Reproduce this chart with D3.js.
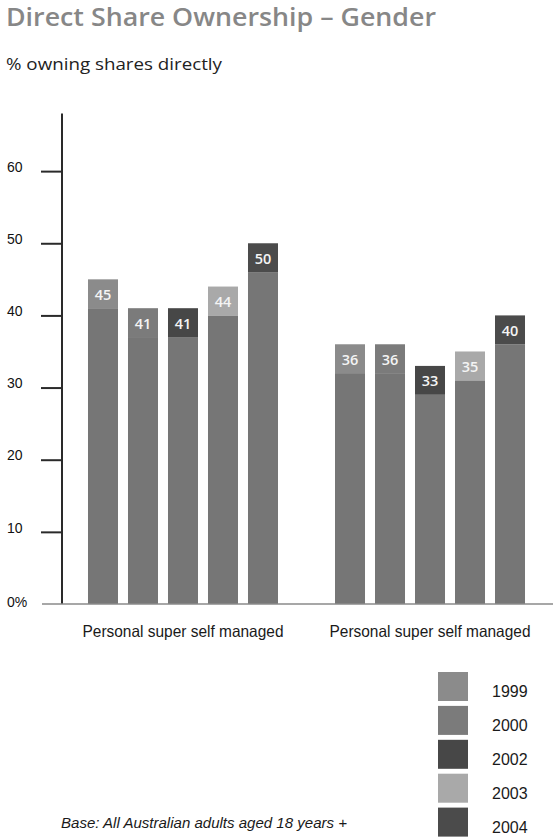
<!DOCTYPE html>
<html>
<head>
<meta charset="utf-8">
<script src="https://cdn.jsdelivr.net/npm/d3@7"></script>
<style>
  html, body { margin: 0; padding: 0; background: #fff; }
  svg { display: block; }
</style>
</head>
<body>
<svg id="chart" width="553" height="838"></svg>
<script>
// Chart data
const groups = ["Personal super self managed", "Personal super self managed (2)"];
const groupLabels = ["Personal super self managed", "Personal super self managed"];
const years = ["1999", "2000", "2002", "2003", "2004"];
const groupValues = [
  [45, 41, 41, 44, 50],
  [36, 36, 33, 35, 40]
];
const yTicks = [0, 10, 20, 30, 40, 50, 60];
const tickLabels = ["0%", "10", "20", "30", "40", "50", "60"];

// Styling
const yearColors = ["#8b8b8b", "#7b7b7b", "#474747", "#a9a9a9", "#4b4b4b"];
const baseColor = "#767676";
const capSpan = 4; // height of the coloured year cap, in % points

const svg = d3.select("#chart");

// Titles
svg.append("text")
  .attr("x", 6).attr("y", 26)
  .attr("font-family", "'Open Sans', sans-serif")
  .attr("font-weight", 600)
  .attr("font-size", 25)
  .attr("fill", "#878787")
  .attr("textLength", 430).attr("lengthAdjust", "spacingAndGlyphs")
  .text("Direct Share Ownership – Gender");

svg.append("text")
  .attr("x", 6).attr("y", 70)
  .attr("font-family", "'Open Sans', sans-serif")
  .attr("font-size", 17)
  .attr("fill", "#222")
  .attr("textLength", 216).attr("lengthAdjust", "spacingAndGlyphs")
  .text("% owning shares directly");

// Scales
const y = d3.scaleLinear().domain([0, 68]).range([604, 113.4]);
const x0 = d3.scaleBand().domain(groups).range([63, 550])
  .paddingInner(0.2308).paddingOuter(0.1012);
const x1 = d3.scaleBand().domain(years).range([0, 190]).paddingInner(0.25);

// Y axis
const axisX = 62;
const yAxis = d3.axisLeft(y)
  .tickValues(yTicks.filter(t => t > 0))
  .tickSize(21)
  .tickFormat(d => tickLabels[yTicks.indexOf(d)]);

const gAxis = svg.append("g")
  .attr("transform", `translate(${axisX},0)`)
  .call(yAxis);
gAxis.select(".domain").remove();
gAxis.selectAll(".tick line").attr("stroke", "#2a2a2a").attr("stroke-width", 2);
gAxis.selectAll(".tick text")
  .attr("x", -55).attr("dy", "0.02em")
  .attr("text-anchor", "start")
  .attr("font-family", "'Liberation Sans', Arial, sans-serif")
  .attr("font-size", 14)
  .attr("fill", "#111");

// zero label
svg.append("text")
  .attr("x", axisX - 55).attr("y", y(0) + 3)
  .attr("font-family", "'Liberation Sans', Arial, sans-serif")
  .attr("font-size", 14)
  .attr("fill", "#111")
  .text(tickLabels[0]);

// axis line
svg.append("line")
  .attr("x1", axisX).attr("x2", axisX)
  .attr("y1", y(68)).attr("y2", y(0))
  .attr("stroke", "#2a2a2a").attr("stroke-width", 2);

// Bars
const gGroups = svg.append("g").selectAll("g")
  .data(groups)
  .join("g")
  .attr("transform", d => `translate(${x0(d)},0)`);

gGroups.each(function (g, gi) {
  const sel = d3.select(this);
  const vals = groupValues[gi].map((v, i) => ({ year: years[i], value: v, i }));

  // lower portion
  sel.selectAll("rect.base")
    .data(vals)
    .join("rect")
    .attr("class", "base")
    .attr("x", d => x1(d.year))
    .attr("width", x1.bandwidth())
    .attr("y", d => y(d.value - capSpan))
    .attr("height", d => y(0) - y(d.value - capSpan))
    .attr("fill", baseColor);

  // year cap
  sel.selectAll("rect.cap")
    .data(vals)
    .join("rect")
    .attr("class", "cap")
    .attr("x", d => x1(d.year))
    .attr("width", x1.bandwidth())
    .attr("y", d => y(d.value))
    .attr("height", d => y(d.value - capSpan) - y(d.value))
    .attr("fill", d => yearColors[d.i]);

  // value labels
  sel.selectAll("text.val")
    .data(vals)
    .join("text")
    .attr("class", "val")
    .attr("x", d => x1(d.year) + x1.bandwidth() / 2)
    .attr("y", d => (y(d.value) + y(d.value - capSpan)) / 2 + 6)
    .attr("text-anchor", "middle")
    .attr("font-family", "'Open Sans', sans-serif")
    .attr("font-weight", 600)
    .attr("font-size", 14.5)
    .attr("fill", "#f4f4f4")
    .text(d => d.value);

  // category label
  sel.append("text")
    .attr("x", x1.range()[1] / 2)
    .attr("y", 637)
    .attr("text-anchor", "middle")
    .attr("font-family", "'Liberation Sans Narrow', 'Liberation Sans', sans-serif")
    .attr("font-size", 16.5)
    .attr("fill", "#1a1a1a")
    .attr("textLength", 201).attr("lengthAdjust", "spacingAndGlyphs")
    .text(groupLabels[gi]);
});

// baseline
svg.append("line")
  .attr("x1", 42).attr("x2", 553)
  .attr("y1", y(0)).attr("y2", y(0))
  .attr("stroke", "#8a8a8a").attr("stroke-width", 1.6);

// Legend
const legend = svg.append("g").selectAll("g")
  .data(years)
  .join("g")
  .attr("transform", (d, i) => `translate(438,${672 + i * 33.9})`);
legend.append("rect")
  .attr("width", 30).attr("height", 29)
  .attr("fill", (d, i) => yearColors[i]);
legend.append("text")
  .attr("x", 54).attr("y", 25)
  .attr("font-family", "'Liberation Sans', Arial, sans-serif")
  .attr("font-size", 16)
  .attr("fill", "#1a1a1a")
  .text(d => d);

// Footnote
svg.append("text")
  .attr("x", 61).attr("y", 828)
  .attr("font-family", "'Liberation Sans', Arial, sans-serif")
  .attr("font-style", "italic")
  .attr("font-size", 14.5)
  .attr("fill", "#1a1a1a")
  .attr("textLength", 286).attr("lengthAdjust", "spacingAndGlyphs")
  .text("Base: All Australian adults aged 18 years +");
</script>
</body>
</html>
